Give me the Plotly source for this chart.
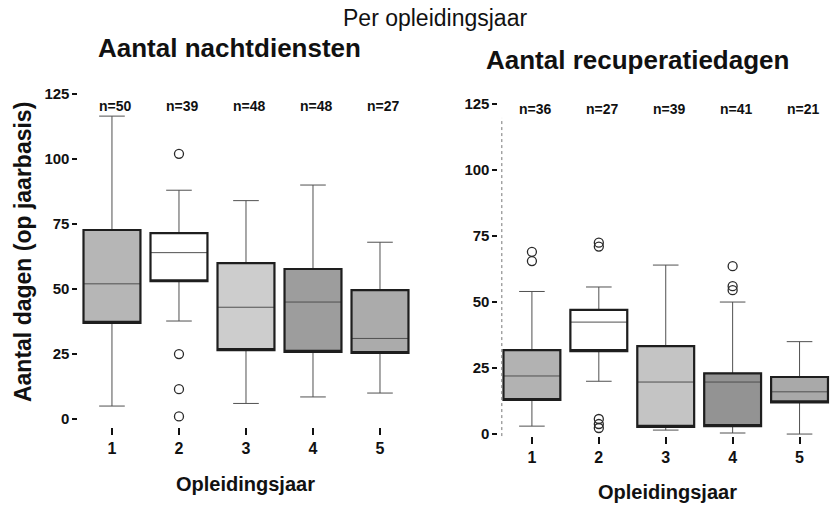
import plotly.graph_objects as go

# Opleidingsjaar categories
years = [1, 2, 3, 4, 5]

# Aantal nachtdiensten per opleidingsjaar (op jaarbasis)
night_n = [50, 39, 48, 48, 27]
night_q1 = [37, 53, 26.5, 25.8, 25.4]
night_median = [52, 64, 43, 45, 31]
night_q3 = [72.7, 71.5, 60, 57.7, 49.6]
night_low = [5, 37.7, 6, 8.5, 10]
night_high = [116.5, 88, 84, 90, 68]
night_out_x = [2, 2, 2, 2]
night_out_y = [102, 25, 11.5, 1]

# Aantal recuperatiedagen per opleidingsjaar (op jaarbasis)
rec_n = [36, 27, 39, 41, 21]
rec_q1 = [12.9, 31.4, 2.7, 3, 12]
rec_median = [22, 42.4, 19.7, 19.7, 16]
rec_q3 = [31.8, 47, 33.3, 23, 21.6]
rec_low = [3, 20, 1.5, 0.4, 0]
rec_high = [54, 55.7, 64, 50, 35]
rec_out_x = [1, 1, 2, 2, 2, 2, 2, 4, 4, 4]
rec_out_y = [69, 65.5, 72.5, 71, 5.7, 3.8, 2.3, 63.6, 56, 54.5]

y_ticks = [0, 25, 50, 75, 100, 125]

night_fill = ["#b6b6b6", "#ffffff", "#cdcdcd", "#9d9d9d", "#ababab"]
rec_fill = ["#b2b2b2", "#ffffff", "#c4c4c4", "#939393", "#a9a9a9"]

FONT = "Liberation Sans, Arial, sans-serif"
W, H = 833, 506


def fy(px):
    """Paper y fraction for a vertical pixel position from the top."""
    return 1 - ((px - 1) / 0.988) / H


fig = go.Figure()


def add_panel(xa, ya, q1, med, q3, low, high, fills, out_x, out_y):
    for i, yr in enumerate(years):
        # full box: fill, median, whiskers (thin)
        fig.add_trace(go.Box(
            x=[yr], q1=[q1[i]], median=[med[i]], q3=[q3[i]],
            lowerfence=[low[i]], upperfence=[high[i]],
            width=0.85, whiskerwidth=0.45, boxpoints=False,
            fillcolor=fills[i], line=dict(color="#505050", width=1),
            xaxis=xa, yaxis=ya, showlegend=False, hoverinfo="skip",
        ))
        # heavy outline of the interquartile box
        fig.add_trace(go.Box(
            x=[yr], q1=[q1[i]], median=[q1[i]], q3=[q3[i]],
            lowerfence=[q1[i]], upperfence=[q3[i]],
            width=0.85, whiskerwidth=0, boxpoints=False,
            fillcolor="rgba(0,0,0,0)", line=dict(color="#1e1e1e", width=2.2),
            xaxis=xa, yaxis=ya, showlegend=False, hoverinfo="skip",
        ))
    fig.add_trace(go.Scatter(
        x=out_x, y=out_y, mode="markers",
        marker=dict(symbol="circle-open", size=9, color="#2a2a2a",
                    line=dict(width=1.3)),
        xaxis=xa, yaxis=ya, showlegend=False, hoverinfo="skip",
    ))


add_panel("x", "y", night_q1, night_median, night_q3, night_low, night_high,
          night_fill, night_out_x, night_out_y)
add_panel("x2", "y2", rec_q1, rec_median, rec_q3, rec_low, rec_high,
          rec_fill, rec_out_x, rec_out_y)

xaxis_style = dict(
    range=[0.5, 5.5], tickvals=years, ticktext=[str(v) for v in years],
    showgrid=False, zeroline=False, showline=False,
    ticks="outside", ticklen=7, tickwidth=2, tickcolor="#111",
    tickfont=dict(family=FONT, size=16, color="#111", weight="bold"),
)
yaxis_style = dict(
    tickvals=y_ticks, ticktext=[str(v) for v in y_ticks],
    showgrid=False, zeroline=False, showline=False,
    ticks="outside", ticklen=5, tickwidth=2, tickcolor="#111",
    tickfont=dict(family=FONT, size=15, color="#111", weight="bold"),
)

fig.update_layout(
    width=W, height=H,
    margin=dict(l=0, r=0, t=0, b=0),
    paper_bgcolor="white", plot_bgcolor="white",
    boxmode="overlay",
    xaxis=dict(domain=[0.0942, 0.4964], **xaxis_style),
    yaxis=dict(domain=[fy(428), fy(85)], range=[-3.08, 128.85], **yaxis_style),
    xaxis2=dict(domain=[0.5984, 1.0], anchor="y2", **xaxis_style),
    yaxis2=dict(domain=[fy(437), fy(95)], range=[-0.76, 128.79], anchor="x2",
                **yaxis_style),
)

# dotted left border of the right-hand panel
fig.add_shape(type="line", xref="x2 domain", yref="y2 domain",
              x0=0.01, x1=0.01, y0=0.0, y1=0.93,
              line=dict(color="#777", width=1, dash="dot"))

annotations = []
for i, yr in enumerate(years):
    annotations.append(dict(x=yr + 0.05, y=120.4, xref="x", yref="y",
                            text=f"n={night_n[i]}", showarrow=False,
                            xanchor="center", yanchor="middle",
                            font=dict(family=FONT, size=14, color="#111",
                                      weight="bold")))
    annotations.append(dict(x=yr + 0.06, y=123, xref="x2", yref="y2",
                            text=f"n={rec_n[i]}", showarrow=False,
                            xanchor="center", yanchor="middle",
                            font=dict(family=FONT, size=14, color="#111",
                                      weight="bold")))


def label(text, px, py, size, bold=True, angle=0):
    return dict(text=text, x=px / W, y=fy(py), xref="paper", yref="paper",
                showarrow=False, xanchor="center", yanchor="middle",
                textangle=angle,
                font=dict(family=FONT, size=size, color="#111",
                          weight="bold" if bold else "normal"))


annotations += [
    label("Per opleidingsjaar", 435, 19, 23, bold=False),
    label("Aantal nachtdiensten", 229, 49, 26),
    label("Aantal recuperatiedagen", 637, 61, 26),
    label("Aantal dagen (op jaarbasis)", 23, 253, 23, angle=-90),
    label("Opleidingsjaar", 246, 485, 20),
    label("Opleidingsjaar", 667, 493, 20),
]
fig.update_layout(annotations=annotations)

fig.write_html("out.html")
